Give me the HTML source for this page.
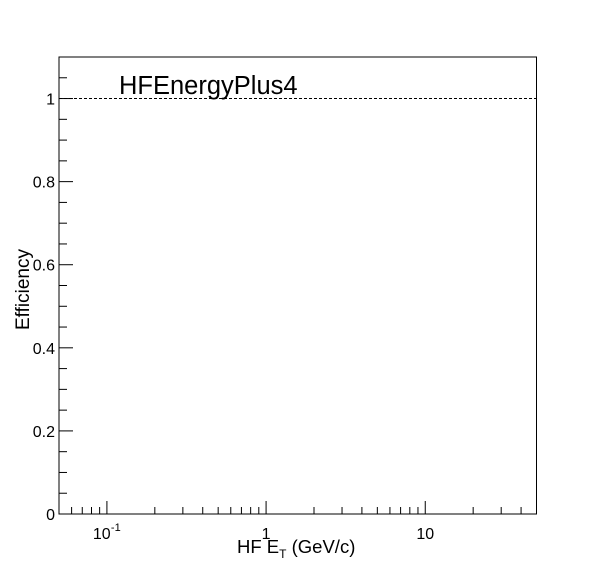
<!DOCTYPE html>
<html><head><meta charset="utf-8"><style>
body{margin:0;background:#fff}
svg text{font-family:"Liberation Sans",sans-serif}
</style></head><body>
<svg id="c" width="596" height="572" xmlns="http://www.w3.org/2000/svg">
<rect x="0" y="0" width="596" height="572" fill="#fff"/>
<g id="g"></g>
</svg>
<script>
const xDomain=[0.05,50];
const yDomain=[0,1.1];
const yTickLabels=["0","0.2","0.4","0.6","0.8","1"];
const yTickValues=[0,0.2,0.4,0.6,0.8,1];
const xMajorValues=[0.1,1,10];
const refLineValue=[1];
const L=59,R=536.5,T=57,B=514;
function sx(v){return L+(Math.log10(v)-Math.log10(xDomain[0]))/(Math.log10(xDomain[1])-Math.log10(xDomain[0]))*(R-L);}
function sy(v){return B-(v-yDomain[0])/(yDomain[1]-yDomain[0])*(B-T);}
const g=document.getElementById('g');const NS='http://www.w3.org/2000/svg';
function mk(t,a,txt){const e=document.createElementNS(NS,t);for(const k in a)e.setAttribute(k,a[k]);if(txt!==undefined)e.textContent=txt;g.appendChild(e);return e;}
let f=mk('rect',{x:L,y:T,width:R-L,height:B-T,fill:'none',stroke:'#000','stroke-width':1});


for(let i=0;i<=22;i++){const v=i*0.05;const y=sy(v);const major=i%4===0;
 let t=mk('line',{x1:L,x2:L+(major?14:8),y1:y,y2:y,stroke:'#000','stroke-width':1});
 
 }
yTickValues.forEach((v,i)=>{let t=mk('text',{x:L-4,y:sy(v)+6,'text-anchor':'end','font-size':16},yTickLabels[i]);
 
 });
for(let d=-2;d<=1;d++){for(let m=1;m<=9;m++){const v=m*Math.pow(10,d);if(v<xDomain[0]||v>xDomain[1])continue;const x=sx(v);
 let t=mk('line',{x1:x,x2:x,y1:B,y2:B-(m===1?13:7),stroke:'#000','stroke-width':1});
 
 }}
let xl1=mk('text',{x:sx(0.1)-14,y:539,'font-size':16},'10');


let xs=mk('text',{x:sx(0.1)+4,y:531,'font-size':11},'-1');


let xl2=mk('text',{x:sx(1),y:539,'text-anchor':'middle','font-size':16},'1');


let xl3=mk('text',{x:sx(10),y:539,'text-anchor':'middle','font-size':16},'10');


refLineValue.forEach(v=>{let l=mk('line',{x1:L,x2:R,y1:sy(v),y2:sy(v),stroke:'#000','stroke-width':1,'stroke-dasharray':'3,2'});
 
 });
let ti=mk('text',{x:119,y:94,'font-size':25.5},'HFEnergyPlus4');


let xt=mk('text',{x:237,y:553,'font-size':18.5},'');
xt.innerHTML='HF E<tspan font-size="12" dy="5">T</tspan><tspan dy="-5"> (GeV/c)</tspan>';


let yt=mk('text',{x:0,y:0,'font-size':19,transform:'translate(29,330) rotate(-90)'},'Efficiency');


</script>
</body></html>
